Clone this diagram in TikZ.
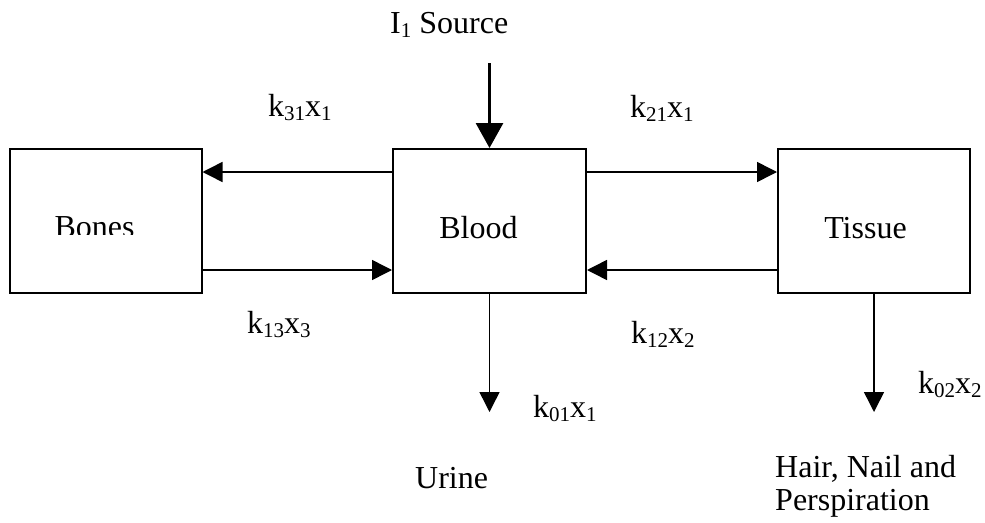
\documentclass[tikz,border=0pt]{standalone}
\usepackage{fontspec}
\setmainfont{Liberation Serif}
\usetikzlibrary{arrows.meta}
\newcommand{\lowsub}[1]{\raisebox{-4pt}{\fontsize{21}{21}\selectfont #1}}
\begin{document}
\begin{tikzpicture}[x=1pt,y=-1pt,
  compbox/.style={draw,line width=2pt,minimum width=192pt,minimum height=144pt,inner sep=0pt},
  lbl/.style={inner sep=0pt,font=\fontsize{32}{37}\selectfont},
  flow/.style={line width=1.5pt,-{Triangle[length=20pt,width=20pt]}},
  srcflow/.style={line width=3pt,-{Triangle[length=25pt,width=27pt]}}]
\useasboundingbox (0,0) rectangle (985,522);
% boxes
\node[compbox] (bones) at (105.5,221) {};
\node[compbox,minimum width=193pt] (blood) at (489.5,221) {};
\node[compbox] (tissue) at (874,221) {};
% box texts
\begin{scope}
\clip (0,0) rectangle (985,234);
\node[lbl,anchor=base] (bonestxt) at (94.5,237) {Bones};
\end{scope}
\node[lbl,anchor=base] (bloodtxt) at (478.5,238) {Blood};
\node[lbl,anchor=base] (tissuetxt) at (865.5,238) {Tissue};
% source
\node[lbl,anchor=base west] (srctxt) at (390,33) {I\lowsub{1} Source};
\coordinate (src) at (489.5,63);
\draw[srcflow] (src) -- (blood.north);
% exchange arrows
\draw[flow] ([yshift=-24pt]blood.north west) -- ([yshift=-24pt]bones.north east);
\draw[flow] ([yshift=24pt]bones.south east) -- ([yshift=24pt]blood.south west);
\draw[flow] ([yshift=-24pt]blood.north east) -- ([yshift=-24pt]tissue.north west);
\draw[flow] ([yshift=24pt]tissue.south west) -- ([yshift=24pt]blood.south east);
% outflows
\coordinate (urinetip) at (489.5,412);
\coordinate (hairtip) at (874,412);
\draw[flow] (blood.south) -- (urinetip);
\draw[flow] (tissue.south) -- (hairtip);
% rate labels
\node[lbl,anchor=base west] (k31) at (268,116) {k\lowsub{31}x\lowsub{1}};
\node[lbl,anchor=base west] (k21) at (630,117) {k\lowsub{21}x\lowsub{1}};
\node[lbl,anchor=base west] (k13) at (247,333) {k\lowsub{13}x\lowsub{3}};
\node[lbl,anchor=base west] (k12) at (631,343) {k\lowsub{12}x\lowsub{2}};
\node[lbl,anchor=base west] (k01) at (533,417) {k\lowsub{01}x\lowsub{1}};
\node[lbl,anchor=base west] (k02) at (918,393) {k\lowsub{02}x\lowsub{2}};
% sinks
\node[lbl,anchor=base west] (urine) at (415,488) {Urine};
\node[lbl,anchor=base west] (hair1) at (775,477) {Hair, Nail and};
\node[lbl,anchor=base west] (hair2) at (775,510) {Perspiration};
\end{tikzpicture}
\end{document}
